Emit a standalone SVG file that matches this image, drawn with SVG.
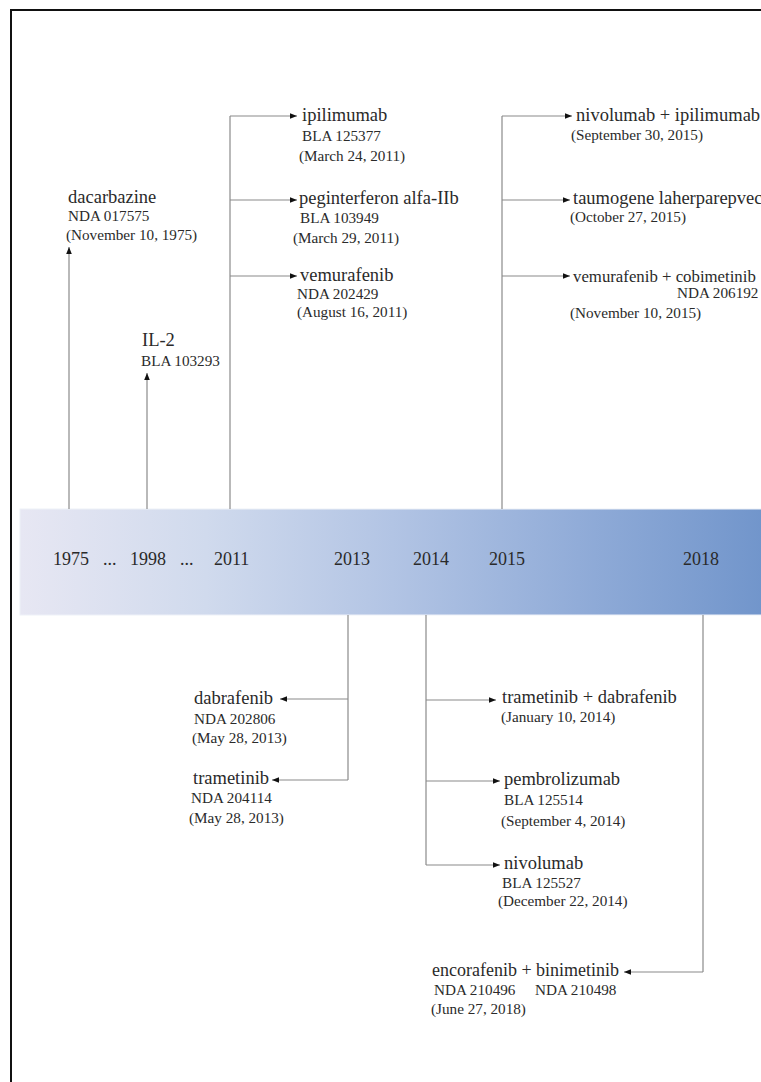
<svg xmlns="http://www.w3.org/2000/svg" width="761" height="1082" viewBox="0 0 761 1082">
<defs>
<linearGradient id="bar" x1="0" y1="0" x2="1" y2="0">
<stop offset="0" stop-color="#e7e7f3"/>
<stop offset="0.25" stop-color="#d0daed"/>
<stop offset="0.5" stop-color="#b2c4e4"/>
<stop offset="0.75" stop-color="#91acd8"/>
<stop offset="1" stop-color="#7195cb"/>
</linearGradient>
<marker id="ah" viewBox="0 0 10 8" refX="10" refY="4" markerWidth="8" markerHeight="5.6" markerUnits="userSpaceOnUse" orient="auto">
<path d="M0,0 L10,4 L0,8 z" fill="#111"/>
</marker>
</defs>
<style>
text{font-family:"Liberation Serif","Times New Roman",serif;fill:#2a2a2a}
.t{font-size:18.5px}
.s{font-size:15.2px}
.y{font-size:18px}
.c{fill:none;stroke:#8a8a8a;stroke-width:1.2}
.a{marker-end:url(#ah)}
</style>
<rect x="0" y="0" width="761" height="1082" fill="#fff"/>
<rect x="11" y="10" width="800" height="1100" fill="none" stroke="#111" stroke-width="2"/>

<g id="timeline">
<rect x="20" y="509" width="745" height="106" fill="url(#bar)" stroke="#eef1f8" stroke-width="1"/>
<text class="y" x="53" y="565">1975</text>
<text class="y" x="103" y="565">...</text>
<text class="y" x="130" y="565">1998</text>
<text class="y" x="180" y="565">...</text>
<text class="y" x="214" y="565">2011</text>
<text class="y" x="334" y="565">2013</text>
<text class="y" x="413" y="565">2014</text>
<text class="y" x="489" y="565">2015</text>
<text class="y" x="683" y="565">2018</text>
</g>

<g id="connectors">
<path class="c a" d="M69,509 V247"/>
<path class="c a" d="M147,509 V373"/>
<path class="c" d="M230,509 V116"/>
<path class="c a" d="M230,116 H297"/>
<path class="c a" d="M230,200 H297"/>
<path class="c a" d="M230,276 H297"/>
<path class="c" d="M502,509 V116"/>
<path class="c a" d="M502,116 H572"/>
<path class="c a" d="M502,200 H570"/>
<path class="c a" d="M502,276 H570"/>
<path class="c" d="M348,615 V780"/>
<path class="c a" d="M348,699 H280"/>
<path class="c a" d="M348,780 H272"/>
<path class="c" d="M426,615 V865"/>
<path class="c a" d="M426,700 H496"/>
<path class="c a" d="M426,781 H500"/>
<path class="c a" d="M426,865 H500"/>
<path class="c" d="M703,615 V972"/>
<path class="c a" d="M703,972 H624"/>
</g>

<g id="dacarbazine">
<text class="t" x="68" y="203">dacarbazine</text>
<text class="s" x="68" y="221">NDA 017575</text>
<text class="s" x="66" y="240">(November 10, 1975)</text>
</g>
<g id="il2">
<text class="t" x="142" y="346">IL-2</text>
<text class="s" x="141" y="366">BLA 103293</text>
</g>
<g id="ipilimumab">
<text class="t" x="302" y="121">ipilimumab</text>
<text class="s" x="302" y="141">BLA 125377</text>
<text class="s" x="299" y="161">(March 24, 2011)</text>
</g>
<g id="peginterferon">
<text class="t" x="299" y="204">peginterferon alfa-IIb</text>
<text class="s" x="300" y="223">BLA 103949</text>
<text class="s" x="293" y="243">(March 29, 2011)</text>
</g>
<g id="vemurafenib">
<text class="t" x="300" y="281">vemurafenib</text>
<text class="s" x="297" y="299">NDA 202429</text>
<text class="s" x="297" y="317">(August 16, 2011)</text>
</g>
<g id="nivolumab-ipilimumab">
<text class="t" x="576" y="121">nivolumab + ipilimumab</text>
<text class="s" x="571" y="140">(September 30, 2015)</text>
</g>
<g id="taumogene">
<text class="t" x="573" y="204">taumogene laherparepvec</text>
<text class="s" x="570" y="222">(October 27, 2015)</text>
</g>
<g id="vemurafenib-cobimetinib">
<text x="573" y="282" style="font-size:16.8px">vemurafenib + cobimetinib</text>
<text class="s" x="677" y="298">NDA 206192</text>
<text class="s" x="570" y="318">(November 10, 2015)</text>
</g>
<g id="dabrafenib">
<text class="t" x="194" y="704">dabrafenib</text>
<text class="s" x="194" y="724">NDA 202806</text>
<text class="s" x="192" y="743">(May 28, 2013)</text>
</g>
<g id="trametinib">
<text class="t" x="193" y="784">trametinib</text>
<text class="s" x="191" y="803">NDA 204114</text>
<text class="s" x="189" y="823">(May 28, 2013)</text>
</g>
<g id="trametinib-dabrafenib">
<text class="t" x="502" y="703">trametinib + dabrafenib</text>
<text class="s" x="501" y="722">(January 10, 2014)</text>
</g>
<g id="pembrolizumab">
<text class="t" x="504" y="785">pembrolizumab</text>
<text class="s" x="504" y="805">BLA 125514</text>
<text class="s" x="501" y="826">(September 4, 2014)</text>
</g>
<g id="nivolumab">
<text class="t" x="504" y="869">nivolumab</text>
<text class="s" x="502" y="888">BLA 125527</text>
<text class="s" x="498" y="906">(December 22, 2014)</text>
</g>
<g id="encorafenib-binimetinib">
<text class="t" x="432" y="976" style="font-size:18px">encorafenib + binimetinib</text>
<text class="s" x="434" y="995">NDA 210496</text>
<text class="s" x="535" y="995">NDA 210498</text>
<text class="s" x="431" y="1014">(June 27, 2018)</text>
</g>
</svg>
